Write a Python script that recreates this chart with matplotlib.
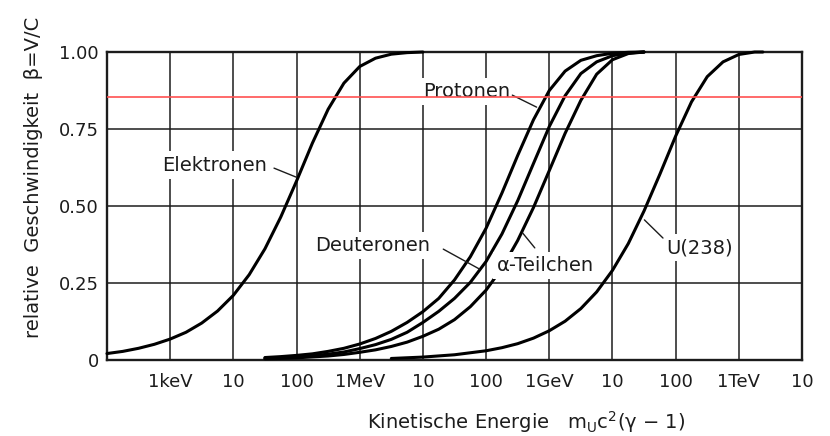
import numpy as np
import matplotlib
matplotlib.use("Agg")
import matplotlib.pyplot as plt

# kinetic energy in eV, beta = v/c
e_energy = [1e2, 1.78e2, 3.16e2, 5.62e2, 1e3, 1.78e3, 3.16e3, 5.62e3, 1e4, 1.78e4, 3.16e4,
            5.62e4, 1e5, 1.78e5, 3.16e5, 5.62e5, 1e6, 1.78e6, 3.16e6, 5.62e6, 1e7]
e_beta = [0.021, 0.028, 0.038, 0.051, 0.068, 0.090, 0.120, 0.159, 0.210, 0.277, 0.361,
          0.464, 0.581, 0.704, 0.814, 0.899, 0.953, 0.980, 0.993, 0.998, 1.0]

ion_energy = [3.16e4, 5.62e4, 1e5, 1.78e5, 3.16e5, 5.62e5, 1e6, 1.78e6, 3.16e6, 5.62e6,
              1e7, 1.78e7, 3.16e7, 5.62e7, 1e8, 1.78e8, 3.16e8, 5.62e8, 1e9, 1.78e9,
              3.16e9, 5.62e9, 1e10, 1.78e10, 3.16e10]
p_beta = [0.008, 0.011, 0.015, 0.020, 0.028, 0.038, 0.052, 0.070, 0.093, 0.122,
          0.157, 0.200, 0.260, 0.335, 0.428, 0.542, 0.664, 0.780, 0.875, 0.938,
          0.973, 0.988, 0.996, 0.999, 1.0]
d_beta = [0.006, 0.008, 0.011, 0.014, 0.019, 0.026, 0.037, 0.050, 0.067, 0.090,
          0.122, 0.158, 0.200, 0.252, 0.320, 0.409, 0.517, 0.638, 0.758, 0.858,
          0.930, 0.968, 0.988, 0.997, 1.0]
a_beta = [0.004, 0.005, 0.007, 0.010, 0.013, 0.018, 0.025, 0.033, 0.044, 0.058,
          0.077, 0.100, 0.131, 0.173, 0.227, 0.298, 0.388, 0.495, 0.615, 0.736,
          0.843, 0.928, 0.975, 0.995, 1.0]

u_energy = [3.16e6, 1e7, 3.16e7, 1e8, 1.78e8, 3.16e8, 5.62e8, 1e9, 1.78e9, 3.16e9,
            5.62e9, 1e10, 1.78e10, 3.16e10, 5.62e10, 1e11, 1.78e11, 3.16e11, 5.62e11,
            1e12, 1.78e12, 2.4e12]
u_beta = [0.005, 0.0095, 0.017, 0.030, 0.040, 0.053, 0.071, 0.095, 0.126, 0.167,
          0.221, 0.291, 0.378, 0.484, 0.603, 0.727, 0.838, 0.920, 0.968,
          0.992, 1.0, 1.0]

red_level = 0.855

xticks = [1e3, 1e4, 1e5, 1e6, 1e7, 1e8, 1e9, 1e10, 1e11, 1e12, 1e13]
xlabels = ["1keV", "10", "100", "1MeV", "10", "100", "1GeV", "10", "100", "1TeV", "10"]
yticks = [0, 0.25, 0.5, 0.75, 1.0]
ylabels = ["0", "0.25", "0.50", "0.75", "1.00"]

plt.rcParams['font.family'] = ['DejaVu Sans']
ink = '#1c1c1c'

fig = plt.figure(figsize=(8.3, 4.36), dpi=100)
ax = fig.add_axes([0.1289, 0.1743, 0.8374, 0.7064])

for xs, ys in [(e_energy, e_beta), (ion_energy, p_beta), (ion_energy, d_beta),
               (ion_energy, a_beta), (u_energy, u_beta)]:
    ax.plot(xs, ys, color='black', lw=2.2, zorder=3, clip_on=False,
            solid_joinstyle='round', solid_capstyle='round')

ax.set_xscale('log')
ax.set_xlim(1e2, 1e13)
ax.set_ylim(0, 1.0)
ax.set_xticks(xticks)
ax.set_xticklabels(xlabels)
ax.minorticks_off()
ax.set_yticks(yticks)
ax.set_yticklabels(ylabels)
ax.tick_params(axis='both', length=0, labelsize=13, colors=ink)
ax.tick_params(axis='x', pad=9)
ax.tick_params(axis='y', pad=6)
ax.set_axisbelow(True)
ax.grid(True, color=ink, lw=1.1)
for s in ax.spines.values():
    s.set_linewidth(1.7)
    s.set_color(ink)

txt = dict(fontsize=14, color=ink, ha='left', va='center', zorder=4,
           bbox=dict(facecolor='white', edgecolor='none', pad=3))
lead = dict(arrowstyle='-', lw=1.0, color=ink, shrinkA=0, shrinkB=0)

ax.text(7.4e2, 0.633, "Elektronen", **txt)
ax.annotate('', xy=(9.8e4, 0.594), xytext=(4.4e4, 0.623), arrowprops=lead, zorder=4)
ax.text(1.0e7, 0.872, "Protonen", **txt)
ax.annotate('', xy=(6.3e8, 0.821), xytext=(2.6e8, 0.86), arrowprops=lead, zorder=4)
ax.text(1.95e5, 0.373, "Deuteronen", **txt)
ax.annotate('', xy=(7.9e7, 0.295), xytext=(2.1e7, 0.36), arrowprops=lead, zorder=4)
ax.text(1.48e8, 0.308, "α-Teilchen", **txt)
ax.annotate('', xy=(3.8e8, 0.412), xytext=(5.9e8, 0.364), arrowprops=lead, zorder=4)
ax.text(7.2e10, 0.364, "U(238)", **txt)
ax.annotate('', xy=(3.2e10, 0.455), xytext=(6.3e10, 0.396), arrowprops=lead, zorder=4)

ax.axhline(red_level, color='#ff5050', lw=1.2, zorder=5)

fig.text(0.040, 0.593, "relative  Geschwindigkeit  β=V/C", rotation=90,
         ha='center', va='center', fontsize=14, color=ink)
fig.text(0.634, 0.032, "Kinetische Energie   m$_\\mathregular{U}$c$^\\mathregular{2}$(γ − 1)",
         ha='center', va='center', fontsize=14, color=ink)

fig.savefig("out.png", dpi=100)
